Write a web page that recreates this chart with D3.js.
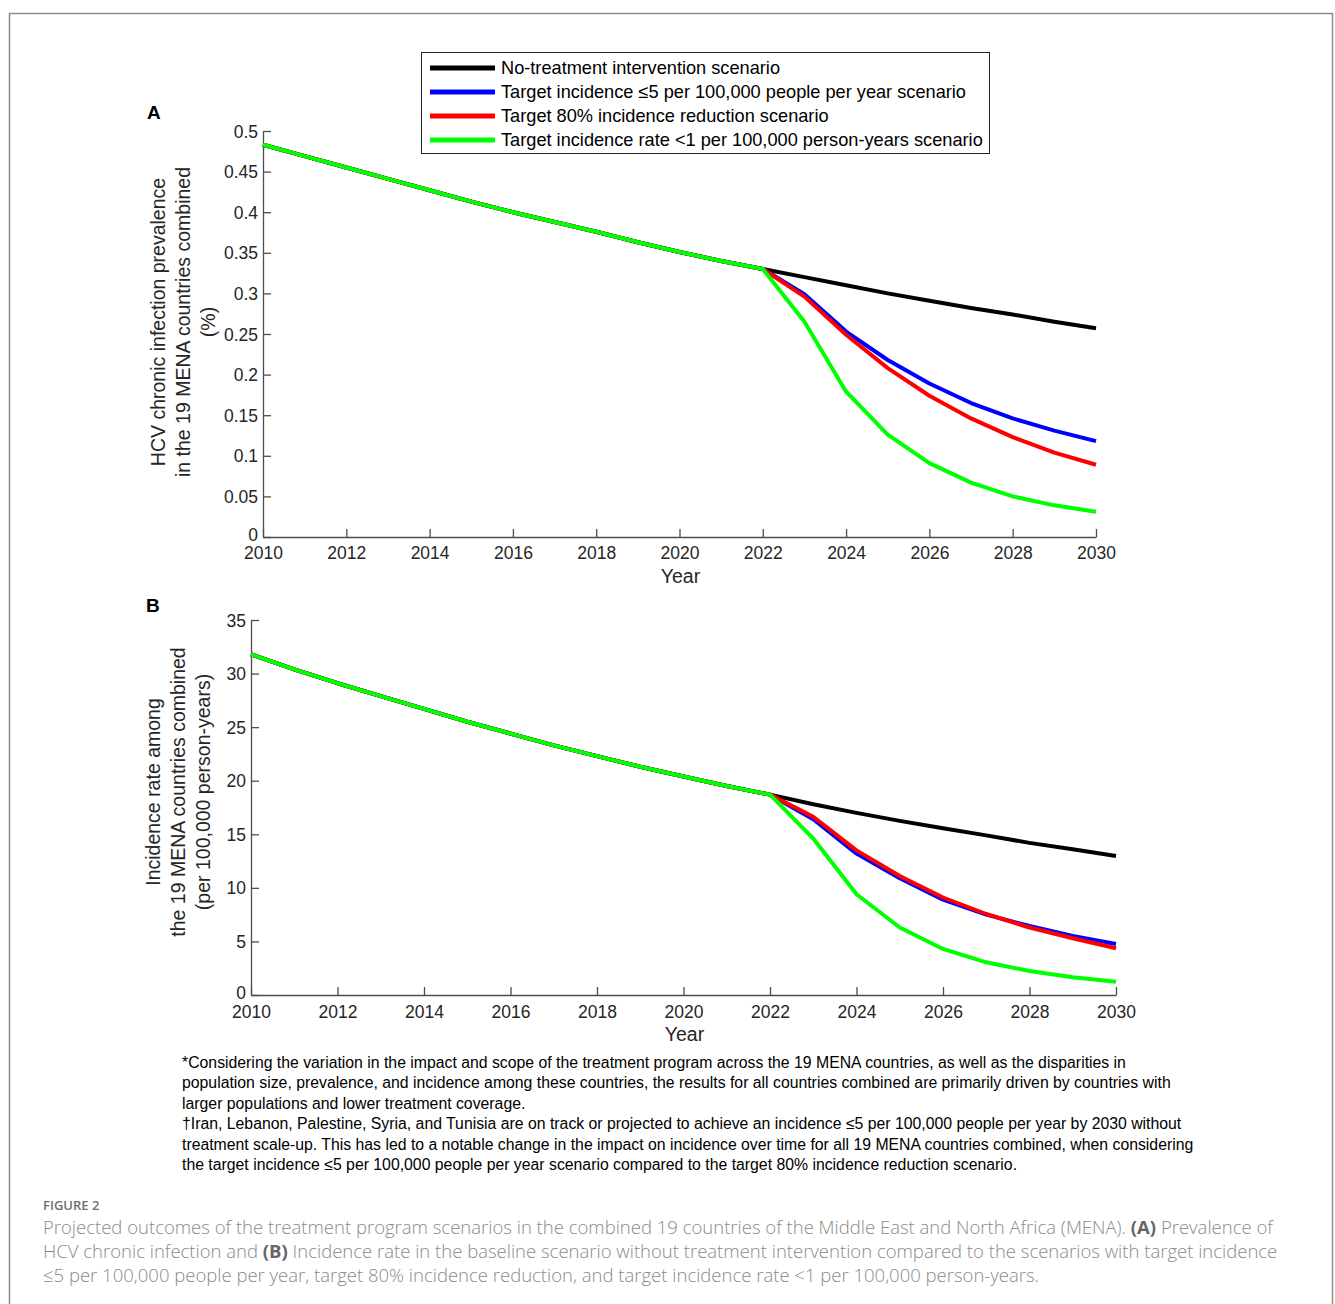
<!DOCTYPE html>
<html><head><meta charset="utf-8">
<script src="https://cdn.jsdelivr.net/npm/d3@7"></script>
<style>
html,body{margin:0;padding:0;background:#fff;}
svg{display:block;}
</style>
</head><body>
<script>
// ---------- DATA ----------
const histYears = [2010,2011,2012,2013,2014,2015,2016,2017,2018,2019,2020,2021,2022];
const projYears = [2022,2023,2024,2025,2026,2027,2028,2029,2030];
const xTicks = [2010,2012,2014,2016,2018,2020,2022,2024,2026,2028,2030];

const seriesNames = [
  "No-treatment intervention scenario",
  "Target incidence \u22645 per 100,000 people per year scenario",
  "Target 80% incidence reduction scenario",
  "Target incidence rate <1 per 100,000 person-years scenario"
];
const seriesColors = ["#000000","#0000ff","#ff0000","#00ff00"];

// Panel A: prevalence (%)
const prevHistory   = [0.483,0.469,0.455,0.441,0.427,0.413,0.400,0.388,0.376,0.363,0.351,0.340,0.330];
const prevNoTreat   = [0.330,0.320,0.310,0.300,0.291,0.282,0.274,0.265,0.257];
const prevTarget5   = [0.330,0.299,0.253,0.218,0.189,0.165,0.146,0.131,0.118];
const prevTarget80  = [0.330,0.296,0.249,0.208,0.174,0.146,0.123,0.104,0.089];
const prevTarget1   = [0.330,0.265,0.179,0.126,0.091,0.067,0.050,0.039,0.031];
const prevTicks = [0,0.05,0.1,0.15,0.2,0.25,0.3,0.35,0.4,0.45,0.5];

// Panel B: incidence rate (per 100,000 person-years)
const incHistory   = [31.8,30.4,29.1,27.9,26.7,25.5,24.4,23.3,22.3,21.3,20.4,19.5,18.7];
const incNoTreat   = [18.7,17.8,17.0,16.25,15.56,14.9,14.2,13.6,12.97];
const incTarget5   = [18.7,16.4,13.2,10.9,8.9,7.5,6.44,5.5,4.76];
const incTarget80  = [18.7,16.64,13.5,11.1,9.1,7.56,6.3,5.3,4.36];
const incTarget1   = [18.7,14.6,9.4,6.3,4.3,3.05,2.24,1.65,1.24];
const incTicks = [0,5,10,15,20,25,30,35];

const footnotes = [
  "*Considering the variation in the impact and scope of the treatment program across the 19 MENA countries, as well as the disparities in",
  "population size, prevalence, and incidence among these countries, the results for all countries combined are primarily driven by countries with",
  "larger populations and lower treatment coverage.",
  "\u2020Iran, Lebanon, Palestine, Syria, and Tunisia are on track or projected to achieve an incidence \u22645 per 100,000 people per year by 2030 without",
  "treatment scale-up. This has led to a notable change in the impact on incidence over time for all 19 MENA countries combined, when considering",
  "the target incidence \u22645 per 100,000 people per year scenario compared to the target 80% incidence reduction scenario."
];

// ---------- DRAW ----------
const W = 1335, H = 1304;
const svg = d3.select("body").append("svg").attr("width", W).attr("height", H);
svg.append("rect").attr("width", W).attr("height", H).attr("fill", "#fff");
svg.append("rect").attr("x", 9.5).attr("y", 13.5).attr("width", 1323).attr("height", 1400)
  .attr("fill", "none").attr("stroke", "#8c8c8c").attr("stroke-width", 1.5);

const chartFont = "'Liberation Sans', Arial, sans-serif";

function panel(opts) {
  const {x0, x1, y0, y1, yDomain, yTicks, yFmt, hist, proj, titleLines, titleX, titleY, letter, letterPos, yearY, tickLabelY} = opts;
  const x = d3.scaleLinear().domain([2010, 2030]).range([x0, x1]);
  const y = d3.scaleLinear().domain(yDomain).range([y0, y1]);
  const g = svg.append("g");

  const xAxis = d3.axisBottom(x).tickValues(xTicks).tickFormat(d3.format("d")).tickSizeInner(-8).tickSizeOuter(0).tickPadding(10);
  const gx = g.append("g").attr("transform", `translate(0,${y0})`).call(xAxis);
  const yAxis = d3.axisLeft(y).tickValues(yTicks).tickFormat(yFmt).tickSizeInner(-8).tickSizeOuter(0).tickPadding(5);
  const gy = g.append("g").attr("transform", `translate(${x0},0)`).call(yAxis);
  [gx, gy].forEach(a => {
    a.selectAll("path.domain").attr("stroke", "#4d4d4d").attr("stroke-width", 1.3);
    a.selectAll(".tick line").attr("stroke", "#4d4d4d").attr("stroke-width", 1.3);
    a.selectAll("text").attr("font-family", chartFont).attr("font-size", 17.5).attr("fill", "#262626");
  });
  gx.selectAll("text").attr("dy", null).attr("y", tickLabelY - y0);
  gy.selectAll("text").attr("dy", "0.35em");
  gy.selectAll(".tick").filter(d => d === 0).select("text").attr("dy", "0.2em");

  // curves
  const line = d3.line().x(d => x(d[0])).y(d => y(d[1]));
  proj.forEach((vals, i) => {
    const pts = histYears.map((yr, j) => [yr, hist[j]]).concat(projYears.slice(1).map((yr, j) => [yr, vals[j + 1]]));
    g.append("path").datum(pts).attr("d", line).attr("fill", "none")
      .attr("stroke", seriesColors[i]).attr("stroke-width", 4).attr("stroke-linejoin", "round");
  });

  // axis titles
  g.append("text").attr("x", (x0 + x1) / 2 + 1).attr("y", yearY).attr("text-anchor", "middle")
    .attr("font-family", chartFont).attr("font-size", 19.5).attr("fill", "#262626").text("Year");
  const t = g.append("text").attr("transform", `translate(${titleX},${titleY}) rotate(-90)`)
    .attr("text-anchor", "middle").attr("font-family", chartFont).attr("font-size", 19.5).attr("fill", "#262626");
  titleLines.forEach((s, i) => t.append("tspan").attr("x", 0).attr("y", i * 25).text(s));

  g.append("text").attr("x", letterPos[0]).attr("y", letterPos[1]).attr("font-family", chartFont)
    .attr("font-weight", "bold").attr("font-size", 19).attr("fill", "#000").text(letter);
}

panel({
  x0: 263, x1: 1096, y0: 537, y1: 131, yDomain: [0, 0.5], yTicks: prevTicks,
  yFmt: d => d === 0 ? "0" : String(+d.toFixed(2)),
  hist: prevHistory, proj: [prevNoTreat, prevTarget5, prevTarget80, prevTarget1],
  titleLines: ["HCV chronic infection prevalence", "in the 19 MENA countries combined", "(%)"],
  titleX: 165, titleY: 322, letter: "A", letterPos: [147, 119], yearY: 583, tickLabelY: 559
});

panel({
  x0: 251, x1: 1116, y0: 995, y1: 620, yDomain: [0, 35], yTicks: incTicks,
  yFmt: d3.format("d"),
  hist: incHistory, proj: [incNoTreat, incTarget5, incTarget80, incTarget1],
  titleLines: ["Incidence rate among", "the 19 MENA countries combined", "(per 100,000 person-years)"],
  titleX: 160, titleY: 792, letter: "B", letterPos: [146, 612], yearY: 1041, tickLabelY: 1018
});

// legend
const lg = svg.append("g");
lg.append("rect").attr("x", 421.5).attr("y", 52.5).attr("width", 568).attr("height", 101)
  .attr("fill", "#fff").attr("stroke", "#262626").attr("stroke-width", 1);
seriesNames.forEach((s, i) => {
  const cy = 68 + i * 24;
  lg.append("line").attr("x1", 430).attr("x2", 495).attr("y1", cy).attr("y2", cy)
    .attr("stroke", seriesColors[i]).attr("stroke-width", 5);
  lg.append("text").attr("x", 501).attr("y", cy + 6).attr("font-family", chartFont)
    .attr("font-size", 18.2).attr("fill", "#000").text(s);
});

// footnotes
footnotes.forEach((s, i) => {
  svg.append("text").attr("x", 182).attr("y", 1068 + i * 20.4).attr("font-family", chartFont)
    .attr("font-size", 15.8).attr("fill", "#000").text(s);
});

// caption
const capFont = "'Open Sans', 'Noto Sans', sans-serif";
svg.append("text").attr("x", 43).attr("y", 1210).attr("font-family", capFont).attr("font-size", 13)
  .attr("font-weight", 600).attr("fill", "#6e6e6e").text("FIGURE 2");
const capLines = [
  [["Projected outcomes of the treatment program scenarios in the combined 19 countries of the Middle East and North Africa (MENA). ", false], ["(A)", true], [" Prevalence of", false]],
  [["HCV chronic infection and ", false], ["(B)", true], [" Incidence rate in the baseline scenario without treatment intervention compared to the scenarios with target incidence", false]],
  [["\u22645 per 100,000 people per year, target 80% incidence reduction, and target incidence rate <1 per 100,000 person-years.", false]]
];
capLines.forEach((parts, i) => {
  const t = svg.append("text").attr("x", 43).attr("y", 1234 + i * 24).attr("font-family", capFont)
    .attr("font-size", 18.5).attr("font-weight", 300).attr("fill", "#8a8a8a");
  parts.forEach(([s, b]) => {
    const sp = t.append("tspan").text(s);
    if (b) sp.attr("font-weight", 700).attr("fill", "#666");
  });
});
</script>
</body></html>
